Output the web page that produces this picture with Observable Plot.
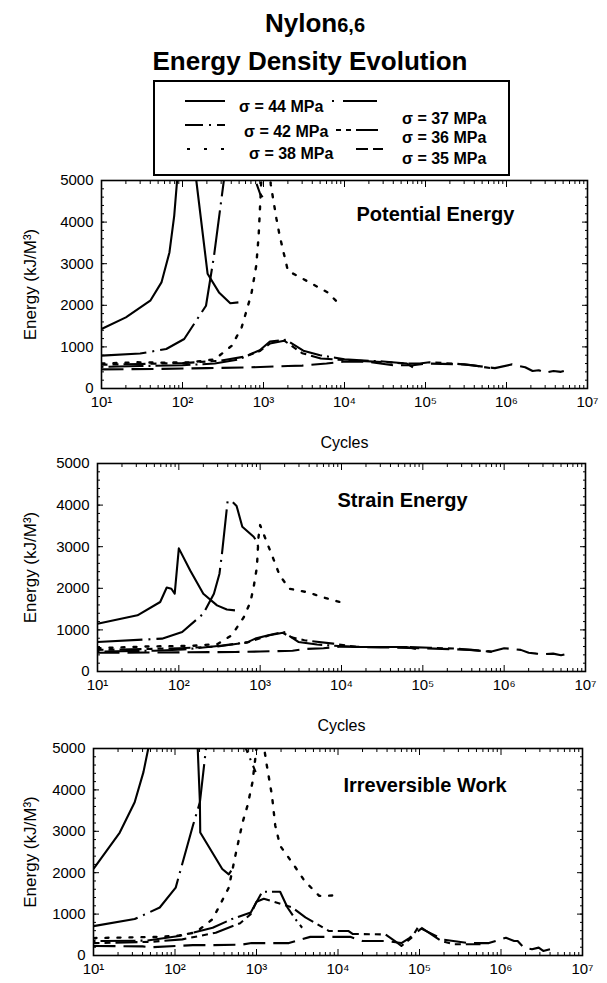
<!DOCTYPE html>
<html><head><meta charset="utf-8">
<script src="https://cdn.jsdelivr.net/npm/d3@7"></script>
<script src="https://cdn.jsdelivr.net/npm/@observablehq/plot@0.6"></script>
<style>
body{margin:0;background:#fff;}
#wrap{position:relative;width:607px;height:983px;font-family:"Liberation Sans",Arial,sans-serif;color:#000;overflow:hidden;background:#fff}
.abs{position:absolute}
</style></head><body><div id="wrap">
<div class="abs" style="left:0;width:630px;top:8px;text-align:center;font-weight:bold;font-size:26px;">Nylon<span style="font-size:20px">6,6</span></div>
<div class="abs" style="left:0;width:620px;top:46px;text-align:center;font-weight:bold;font-size:26px;">Energy Density Evolution</div>
</div>
<script>
// ---------- data ----------
const seriesNames = ["σ = 44 MPa","σ = 42 MPa","σ = 38 MPa","σ = 37 MPa","σ = 36 MPa","σ = 35 MPa"];
const panelTitles = ["Potential Energy","Strain Energy","Irreversible Work"];
const xTicks = [10,100,1000,10000,100000,1000000,10000000];
const xTickLabels = ["10¹","10²","10³","10⁴","10⁵","10⁶","10⁷"];
const yTicks = [0,1000,2000,3000,4000,5000];
const yTickLabels = ["0","1000","2000","3000","4000","5000"];
const xLabel = "Cycles";
const yLabel = "Energy (kJ/M³)";

// Potential Energy  [cycles, kJ/m3]
const pe44 = [[10,1430],[20,1710],[40,2110],[55,2550],[69,3270],[79,4150],[86,5030],[112,9500],[148,5000],[204,2760],[282,2310],[389,2050],[490,2070]];
const pe42 = [[10,790],[30,840],[63,950],[105,1190],[195,1990],[245,3190],[324,5000],[520,9000],[794,5000],[912,4670],[977,4600]];
const pe38 = [[10,600],[27,630],[60,620],[126,630],[250,700],[407,1030],[537,1470],[617,1870],[708,2270],[813,2950],[871,3670],[912,4470],[933,4900],[1070,6500],[1230,4900],[1445,4080],[1585,3670],[2000,2830],[3700,2550],[6200,2310],[8500,2040]];
const pe37 = [[10,520],[30,540],[100,560],[250,600],[500,700],[720,840],[900,920],[1200,1130],[1900,1170],[3100,910],[5000,800],[10000,700],[30000,650],[59000,600],[70000,510]];
const pe36 = [[10,570],[30,590],[100,610],[300,670],[600,770],[900,900],[1200,1080],[1800,1150],[3000,850],[5100,720],[13000,670],[33000,630],[59000,600],[85000,600],[112000,630],[220000,600],[380000,560],[680000,480]];
const pe35 = [[10,460],[50,470],[200,490],[700,510],[2000,540],[3000,550],[6000,600],[10000,650],[20000,640],[40000,560],[70000,560],[100000,600],[300000,580],[720000,490],[1170000,580],[1700000,510],[2100000,420],[2500000,440],[3000000,380],[3800000,420],[4700000,400],[5100000,420]];

// Strain Energy
const se44 = [[10,1150],[31,1350],[59,1670],[71,2020],[81,1990],[89,1870],[100,2960],[138,2430],[200,1870],[295,1590],[389,1490],[490,1470]];
const se42 = [[10,710],[62,790],[110,950],[200,1390],[270,1870],[316,2350],[339,2830],[398,4100],[450,4090],[513,3980],[603,3480],[832,3240],[912,3120],[955,2960]];
const se38 = [[10,560],[40,600],[150,620],[300,660],[447,870],[631,1310],[759,1670],[832,2030],[912,2510],[955,3240],[1000,3520],[1200,3120],[1445,2720],[1738,2310],[2290,1990],[3715,1910],[6030,1780],[9550,1670]];
const se37 = [[10,480],[50,500],[115,530],[324,620],[692,700],[871,790],[1260,870],[1950,950],[2950,710],[5000,650],[8000,620],[15500,590],[63000,590],[83000,540]];
const se36 = [[10,520],[40,540],[100,560],[300,600],[700,700],[1000,800],[1300,870],[1900,930],[2350,830],[3500,750],[7900,670],[15500,590],[63000,590],[123000,570],[257000,550],[724000,470]];
const se35 = [[10,450],[100,460],[500,470],[1000,480],[2500,500],[3500,540],[6000,560],[10000,600],[30000,580],[100000,560],[400000,520],[700000,480],[1000000,560],[1600000,520],[2000000,450],[2500000,430],[3200000,420],[4000000,430],[5000000,390],[5500000,410]];

// Irreversible Work
const iw44 = [[10,2090],[21,2970],[32,3700],[41,4430],[47,5000],[100,12000],[190,5000],[202,3700],[204,2970],[380,2090],[457,1960],[490,2050]];
const iw42 = [[10,710],[32,880],[65,1160],[102,1640],[166,3140],[202,3700],[240,5000],[450,9000],[741,5000],[977,4430]];
const iw38 = [[10,420],[60,450],[110,480],[180,560],[290,880],[457,1640],[550,2410],[676,3220],[776,3620],[891,4180],[1000,5000],[1140,5500],[1318,4670],[1549,3860],[1698,3140],[1950,2650],[2818,2210],[3890,1800],[5890,1440],[9330,1450]];
const iw37 = [[10,350],[45,360],[112,470],[290,670],[500,880],[850,1040],[1175,1540],[1950,1540],[2400,1160],[3000,880],[3630,670]];
const iw36 = [[10,300],[50,330],[123,390],[316,550],[630,780],[850,1000],[1000,1300],[1230,1370],[2750,1160],[3980,920],[7760,590],[13500,590],[15100,520],[38000,510],[50000,350],[60000,230],[80000,430],[98000,710],[186000,350],[270000,270],[480000,270],[560000,270]];
const iw35 = [[10,230],[40,220],[51,200],[166,250],[263,250],[650,260],[870,300],[2500,300],[4570,450],[14100,450],[20000,350],[38000,350],[60000,300],[75000,420],[105000,650],[200000,380],[400000,300],[710000,300],[1150000,430],[1450000,350],[1600000,350],[1900000,190],[2400000,150],[2900000,190],[3300000,110],[4000000,150]];

// ---------- styles / layout ----------
const dashes = [null, "45,6,2,6", "3,9", "2,5,35,5", "6,5,6,5,22,5", "22,8"];
const legendDashes = [null, "18,6,2,6", "3,14", "2,9,32,0", "5,5,5,5,17,0", "12,5"];
const font = '"Liberation Sans", Arial, sans-serif';
const wrap = document.getElementById("wrap");

// legend
const lg = d3.select(wrap).append("svg").attr("class","abs")
  .style("left","153px").style("top","80px").attr("width",358).attr("height",97)
  .style("font-family",font);
lg.append("rect").attr("x",1).attr("y",1).attr("width",355).attr("height",94).attr("fill","none").attr("stroke","#000").attr("stroke-width",2);
const legendItems = [
  {i:0, lx:[32,72], ly:21, tx:86, ty:32},
  {i:1, lx:[32,72], ly:45, tx:91, ty:57},
  {i:2, lx:[34,76], ly:69, tx:96, ty:79},
  {i:3, lx:[179,229], ly:21, tx:249, ty:44},
  {i:4, lx:[183,230], ly:50, tx:249, ty:63},
  {i:5, lx:[203,230], ly:69, tx:249, ty:84}
];
for (const it of legendItems) {
  lg.append("line").attr("x1",it.lx[0]).attr("x2",it.lx[1]).attr("y1",it.ly).attr("y2",it.ly)
    .attr("stroke","#000").attr("stroke-width",2.2).attr("stroke-dasharray", legendDashes[it.i]);
  lg.append("text").attr("x",it.tx).attr("y",it.ty).attr("font-size",16).attr("font-weight","bold").text(seriesNames[it.i]);
}

const xMinor = d3.range(1,7).flatMap(e => d3.range(2,10).map(m => m * Math.pow(10,e)));
const yMinor = d3.range(0,5001,200);
const xFmt = d => { const j = xTicks.findIndex(t => Math.abs(t - d) < 1e-6 * t); return j < 0 ? "" : xTickLabels[j]; };
const yFmt = d => { const j = yTicks.indexOf(d); return j < 0 ? "" : yTickLabels[j]; };
const blank = () => "";

const panels = [
  {data:[pe44,pe42,pe38,pe37,pe36,pe35], l:101, r:587, ft:180, fb:388, cycles:true, tdx:255, tdy:34},
  {data:[se44,se42,se38,se37,se36,se35], l:97, r:585, ft:463, fb:671, cycles:true, tdx:240, tdy:37},
  {data:[iw44,iw42,iw38,iw37,iw36,iw35], l:93, r:582, ft:748, fb:955, cycles:false, tdx:250, tdy:37}
];
panels.forEach((p, k) => {
  const T = 10;
  const B = p.cycles ? 72 : 983 - p.fb;
  const lineMarks = p.data.map((d, i) => Plot.line(d, {
    x: v => v[0], y: v => v[1], stroke: "#000",
    strokeWidth: i === 2 ? 2.4 : 2.1,
    strokeDasharray: dashes[i] || undefined,
    strokeLinecap: i === 2 ? "round" : "butt",
    clip: true
  }));
  const marks = [
    Plot.axisX({ticks: xTicks, tickSize: 0, tickPadding: 8, tickFormat: xFmt, label: null}),
    Plot.axisX({ticks: xTicks, tickSize: -6, tickFormat: blank, label: null}),
    Plot.axisX({ticks: xMinor, tickSize: -3, tickFormat: blank, label: null}),
    Plot.axisX({anchor: "top", ticks: xTicks, tickSize: -6, tickFormat: blank, label: null}),
    Plot.axisX({anchor: "top", ticks: xMinor, tickSize: -3, tickFormat: blank, label: null}),
    Plot.axisY({ticks: yTicks, tickSize: 0, tickPadding: 8, tickFormat: yFmt, label: null}),
    Plot.axisY({ticks: yTicks, tickSize: -6, tickFormat: blank, label: null}),
    Plot.axisY({ticks: yMinor, tickSize: -3, tickFormat: blank, label: null}),
    Plot.axisY({anchor: "right", ticks: yTicks, tickSize: -6, tickFormat: blank, label: null}),
    Plot.axisY({anchor: "right", ticks: yMinor, tickSize: -3, tickFormat: blank, label: null}),
    ...lineMarks,
    Plot.frame({stroke: "#000", strokeWidth: 1.6}),
    Plot.text([panelTitles[k]], {text: d => d, frameAnchor: "top-left", dx: p.tdx, dy: p.tdy,
      textAnchor: "start", lineAnchor: "middle", fontWeight: "bold", fontSize: 20}),
    Plot.text([yLabel], {text: d => d, frameAnchor: "left", dx: -(p.l - 30), rotate: -90,
      textAnchor: "middle", lineAnchor: "middle", fontSize: 17})
  ];
  if (p.cycles) marks.push(Plot.text([xLabel], {text: d => d, frameAnchor: "bottom", dy: 54,
      textAnchor: "middle", lineAnchor: "middle", fontSize: 16}));
  const svg = Plot.plot({
    width: 607, height: T + (p.fb - p.ft) + B,
    marginLeft: p.l, marginRight: 607 - p.r, marginTop: T, marginBottom: B,
    style: {fontFamily: font, fontSize: "15px", background: "transparent", color: "#000", overflow: "visible"},
    x: {type: "log", domain: [10, 1e7]},
    y: {domain: [0, 5000]},
    marks
  });
  svg.style.position = "absolute";
  svg.style.left = "0px";
  svg.style.top = (p.ft - T) + "px";
  wrap.appendChild(svg);
});
</script>
</body></html>
